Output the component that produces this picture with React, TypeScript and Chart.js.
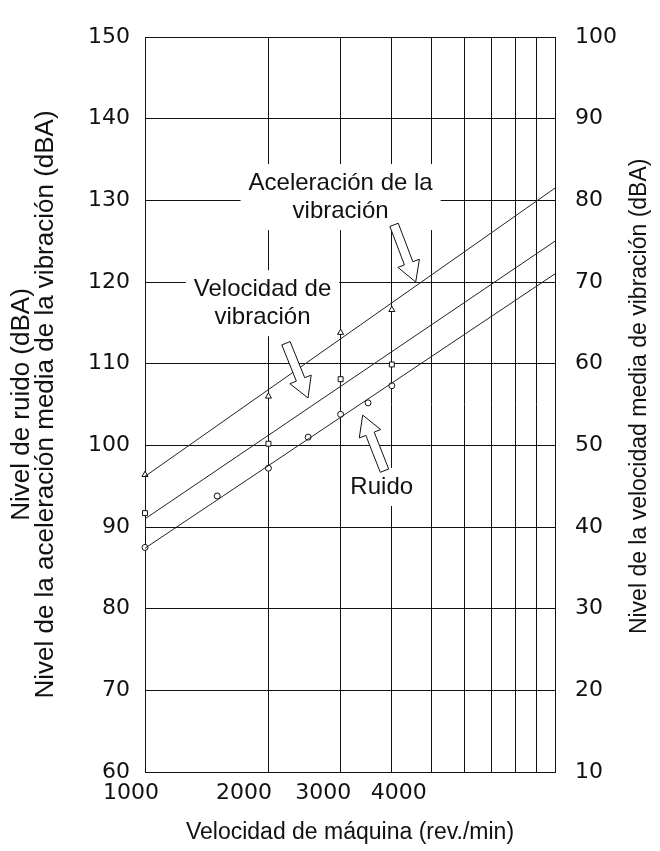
import React, { useEffect, useRef } from 'react';
import { Chart, registerables } from 'chart.js';

Chart.register(...registerables);

// Machine speed grid (rev./min), logarithmic
const speedGrid = [1000, 2000, 3000, 4000, 5000, 6000, 7000, 8000, 9000, 10000];
const speedLabels = [1000, 2000, 3000, 4000];

// Level axes (dBA)
const noiseAxisRange = [60, 150];
const velocityAxisRange = [10, 100];

// Measured points
const accelSpeeds = [1000, 2000, 3000, 4000];
const accelLevels = [96.4, 106.0, 113.8, 116.6];
const velSpeeds = [1000, 2000, 3000, 4000];
const velLevels = [91.7, 100.2, 108.1, 109.9];
const noiseSpeeds = [1000, 1500, 2000, 2500, 3000, 3500, 4000];
const noiseLevels = [87.5, 93.8, 97.2, 101.0, 103.8, 105.2, 107.3];

// Trend lines: level at 1000 and 10000 rev./min
const trendSpeeds = [1000, 10000];
const accelTrend = [96.2, 131.5];
const velTrend = [91.0, 125.0];
const noiseTrend = [87.4, 121.0];

// Callouts: text, label centre, arrow tail and arrow tip (speed, left-axis level)
const calloutText = [['Aceleración de la', 'vibración'], ['Velocidad de', 'vibración'], ['Ruido']];
const calloutAt = [[3000, 130.4], [1935, 117.4], [3779, 94.9]];
const arrowFrom = [[4050, 127.0], [2207, 112.5], [3838, 96.9]];
const arrowTo = [[4574, 120.0], [2498, 105.8], [3396, 103.7]];

const leftTitle = ['Nivel de ruido (dBA)', 'Nivel de la aceleración media de la vibración (dBA)'];
const rightTitle = 'Nivel de la velocidad media de vibración (dBA)';
const bottomTitle = 'Velocidad de máquina (rev./min)';

const INK = '#111';
const TICK_FONT = { family: "'DejaVu Sans', sans-serif", size: 22 };
const TITLE_FAMILY = "'Liberation Sans', Arial, sans-serif";
const CALLOUT_FONT = "24px 'Liberation Sans', Arial, sans-serif";
const CALLOUT_LINE = 28;

// The printed speeds are set a little apart from their grid lines so the
// crowded 3000/4000 pair stays legible: blanks before/after each label.
const SPEED_LABEL_BLANKS: Record<number, [number, number]> = {
  1000: [0, 4],
  2000: [0, 7],
  3000: [0, 5],
  4000: [2, 0],
};

const pts = (xs: number[], ys: number[]) => xs.map((x, i) => ({ x, y: ys[i] }));

function drawArrow(ctx: CanvasRenderingContext2D, tx: number, ty: number, px: number, py: number) {
  const dx = px - tx;
  const dy = py - ty;
  const len = Math.hypot(dx, dy);
  const ux = dx / len;
  const uy = dy / len;
  const nx = -uy;
  const ny = ux;
  const sw = 4.5;
  const hw = 11.5;
  const hl = 20;
  const hx = px - ux * hl;
  const hy = py - uy * hl;
  ctx.beginPath();
  ctx.moveTo(tx + nx * sw, ty + ny * sw);
  ctx.lineTo(hx + nx * sw, hy + ny * sw);
  ctx.lineTo(hx + nx * hw, hy + ny * hw);
  ctx.lineTo(px, py);
  ctx.lineTo(hx - nx * hw, hy - ny * hw);
  ctx.lineTo(hx - nx * sw, hy - ny * sw);
  ctx.lineTo(tx - nx * sw, ty - ny * sw);
  ctx.closePath();
  ctx.fillStyle = '#fff';
  ctx.fill();
  ctx.strokeStyle = INK;
  ctx.lineWidth = 1;
  ctx.stroke();
}

const calloutPlugin = {
  id: 'callouts',
  beforeDatasetsDraw(chart: any) {
    // white panels behind the callout text, hiding the grid
    const { ctx, scales } = chart;
    ctx.save();
    ctx.font = CALLOUT_FONT;
    calloutText.forEach((lines, i) => {
      const cx = scales.x.getPixelForValue(calloutAt[i][0]);
      const cy = scales.y.getPixelForValue(calloutAt[i][1]);
      const w = Math.max(...lines.map((l) => ctx.measureText(l).width)) + 16;
      const h = lines.length * CALLOUT_LINE + 10;
      ctx.fillStyle = '#fff';
      ctx.fillRect(cx - w / 2, cy - h / 2, w, h);
    });
    ctx.restore();
  },
  afterDatasetsDraw(chart: any) {
    const { ctx, scales } = chart;
    ctx.save();
    calloutText.forEach((lines, i) => {
      drawArrow(
        ctx,
        scales.x.getPixelForValue(arrowFrom[i][0]),
        scales.y.getPixelForValue(arrowFrom[i][1]),
        scales.x.getPixelForValue(arrowTo[i][0]),
        scales.y.getPixelForValue(arrowTo[i][1])
      );
      const cx = scales.x.getPixelForValue(calloutAt[i][0]);
      const cy = scales.y.getPixelForValue(calloutAt[i][1]);
      ctx.font = CALLOUT_FONT;
      ctx.fillStyle = INK;
      ctx.textAlign = 'center';
      ctx.textBaseline = 'middle';
      const y0 = cy - ((lines.length - 1) * CALLOUT_LINE) / 2;
      lines.forEach((l, k) => ctx.fillText(l, cx, y0 + k * CALLOUT_LINE));
    });
    // right-hand axis title, reading bottom to top
    const r = scales.y2;
    ctx.translate(r.right - 20, r.getPixelForValue(56));
    ctx.rotate(-Math.PI / 2);
    ctx.font = `23px ${TITLE_FAMILY}`;
    ctx.fillStyle = INK;
    ctx.textAlign = 'center';
    ctx.textBaseline = 'middle';
    ctx.fillText(rightTitle, 0, 0);
    ctx.restore();
  },
};

export default function App() {
  const ref = useRef<HTMLCanvasElement | null>(null);

  useEffect(() => {
    if (!ref.current) return;
    const markerStyle = {
      showLine: false,
      pointBackgroundColor: '#fff',
      pointBorderColor: INK,
      pointBorderWidth: 1,
      clip: false as any,
    };
    const trendStyle = {
      borderColor: '#222',
      borderWidth: 1,
      pointRadius: 0,
      fill: false,
    };
    const chart = new Chart(ref.current, {
      type: 'line',
      data: {
        datasets: [
          { label: 'Aceleración', data: pts(trendSpeeds, accelTrend), ...trendStyle },
          { label: 'Velocidad', data: pts(trendSpeeds, velTrend), ...trendStyle },
          { label: 'Ruido', data: pts(trendSpeeds, noiseTrend), ...trendStyle },
          { label: 'Aceleración (medida)', data: pts(accelSpeeds, accelLevels), pointStyle: 'triangle', pointRadius: 3.5, ...markerStyle },
          { label: 'Velocidad (medida)', data: pts(velSpeeds, velLevels), pointStyle: 'rect', pointRadius: 3.5, ...markerStyle },
          { label: 'Ruido (medido)', data: pts(noiseSpeeds, noiseLevels), pointStyle: 'circle', pointRadius: 3, ...markerStyle },
        ] as any,
      },
      options: {
        animation: false,
        responsive: false,
        maintainAspectRatio: false,
        devicePixelRatio: 1,
        layout: { padding: { top: 37, left: 0, right: 0, bottom: 0 } },
        plugins: { legend: { display: false }, tooltip: { enabled: false } },
        scales: {
          x: {
            type: 'logarithmic',
            position: 'bottom',
            min: speedGrid[0],
            max: speedGrid[speedGrid.length - 1],
            afterBuildTicks: (s: any) => {
              s.ticks = speedGrid.map((value) => ({ value }));
            },
            afterFit: (s: any) => {
              s.height = 79;
            },
            grid: { color: INK, lineWidth: 1, drawTicks: false },
            border: { color: INK, width: 1 },
            ticks: {
              autoSkip: false,
              maxRotation: 0,
              minRotation: 0,
              padding: 8,
              color: INK,
              font: TICK_FONT,
              callback: (v: any) => {
                const n = Number(v);
                if (!speedLabels.includes(n)) return '';
                const [before, after] = SPEED_LABEL_BLANKS[n] || [0, 0];
                return ' '.repeat(before) + String(n) + ' '.repeat(after);
              },
            },
            title: {
              display: true,
              text: bottomTitle,
              color: INK,
              font: { family: TITLE_FAMILY, size: 23 },
              padding: { top: 0, bottom: 5 },
            },
          },
          y: {
            position: 'left',
            min: noiseAxisRange[0],
            max: noiseAxisRange[1],
            afterFit: (s: any) => {
              s.width = 145;
            },
            grid: { color: INK, lineWidth: 1, drawTicks: false },
            border: { color: INK, width: 1 },
            ticks: { stepSize: 10, padding: 15, color: INK, font: TICK_FONT },
            title: {
              display: true,
              text: leftTitle,
              color: INK,
              font: { family: TITLE_FAMILY, size: 26, lineHeight: 0.92 },
              padding: { top: 10, bottom: 0 },
            },
          },
          y2: {
            position: 'right',
            min: velocityAxisRange[0],
            max: velocityAxisRange[1],
            afterFit: (s: any) => {
              s.width = 105;
            },
            grid: { display: false, drawTicks: false },
            border: { color: INK, width: 1 },
            ticks: { stepSize: 10, padding: 20, color: INK, font: TICK_FONT },
          },
        },
      } as any,
      plugins: [calloutPlugin],
    });
    return () => chart.destroy();
  }, []);

  return (
    <div style={{ position: 'fixed', left: 0, top: 0, width: 660, height: 851, background: '#fff' }}>
      <canvas ref={ref} width={660} height={851} style={{ display: 'block', width: 660, height: 851 }} />
    </div>
  );
}
